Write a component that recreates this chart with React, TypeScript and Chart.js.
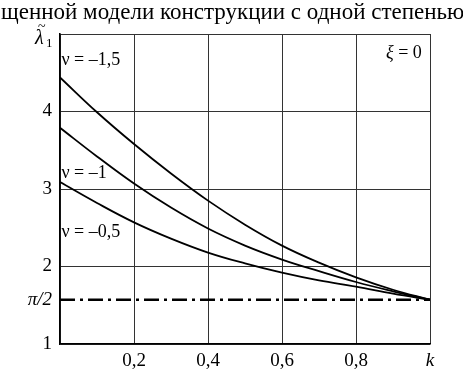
import React, { useEffect, useRef } from "react";
import { Chart, registerables } from "chart.js";

Chart.register(...registerables);

const kValues = [0, 0.1, 0.2, 0.3, 0.4, 0.5, 0.6, 0.7, 0.8, 0.9, 1.0];
const nuMinus15 = [4.44, 3.99, 3.58, 3.2, 2.85, 2.54, 2.27, 2.05, 1.86, 1.7, 1.571];
const nuMinus10 = [3.79, 3.42, 3.07, 2.76, 2.49, 2.27, 2.09, 1.94, 1.8, 1.68, 1.571];
const nuMinus05 = [3.09, 2.82, 2.57, 2.36, 2.18, 2.04, 1.92, 1.82, 1.74, 1.65, 1.571];
const piHalf = Math.PI / 2;

const xTicks = [0, 0.2, 0.4, 0.6, 0.8, 1.0];
const xTickLabels = ["", "0,2", "0,4", "0,6", "0,8", "k"];
const yTicks = [1, piHalf, 2, 3, 4, 5];
const yTickLabels = ["1", "π/2", "2", "3", "4", ""];

const curveLabels = ["ν = –1,5", "ν = –1", "ν = –0,5"];
const curveLabelPos = [
  { k: 0.004, v: 4.66 },
  { k: 0.004, v: 3.2 },
  { k: 0.004, v: 2.44 },
];
const titleText = "щенной модели конструкции с одной степенью";
const paramSymbol = "ξ";
const paramValue = " = 0";

const FONT = "'Liberation Serif', 'Times New Roman', serif";

export default function App() {
  const ref = useRef<HTMLCanvasElement | null>(null);

  useEffect(() => {
    const canvas = ref.current;
    if (!canvas) return;

    const annotations = {
      id: "annotations",
      afterDraw(chart: any) {
        const ctx = chart.ctx;
        const xs = chart.scales.x;
        const ys = chart.scales.y;
        ctx.save();
        ctx.fillStyle = "#000";
        // title
        ctx.font = `23px ${FONT}`;
        ctx.textBaseline = "middle";
        ctx.textAlign = "left";
        ctx.fillText(titleText, 1, 13);
        // curve labels
        ctx.font = `18px ${FONT}`;
        curveLabels.forEach((t, i) => {
          const p = curveLabelPos[i];
          ctx.fillText(t, xs.getPixelForValue(p.k), ys.getPixelForValue(p.v));
        });
        // parameter
        ctx.font = `18px ${FONT}`;
        const vw = ctx.measureText(paramValue).width;
        const px = xs.getPixelForValue(0.978);
        const py = ys.getPixelForValue(4.75);
        ctx.textAlign = "right";
        ctx.fillText(paramValue, px, py);
        ctx.font = `italic 18px ${FONT}`;
        ctx.fillText(paramSymbol, px - vw, py);
        // y axis label lambda~_1
        const lx = chart.chartArea.left - 25;
        const ly = ys.getPixelForValue(4.94);
        ctx.textAlign = "left";
        ctx.font = `italic 20px ${FONT}`;
        ctx.fillText("λ", lx, ly);
        ctx.font = `14px ${FONT}`;
        ctx.fillText("~", lx + 3, ly - 11);
        ctx.font = `13px ${FONT}`;
        ctx.fillText("1", lx + 11, ly + 5);
        ctx.restore();
      },
    };

    const gridColor = (c: any) => {
      const v = c.tick ? c.tick.value : null;
      if (v !== null && Math.abs(v - piHalf) < 1e-6) return "rgba(0,0,0,0)";
      return "#333";
    };

    const lineStyle = {
      borderColor: "#000",
      borderWidth: 1.8,
      pointRadius: 0,
      tension: 0.4,
    };

    const chart = new Chart(canvas, {
      type: "line",
      data: {
        datasets: [
          { ...lineStyle, data: kValues.map((k, i) => ({ x: k, y: nuMinus15[i] })) },
          { ...lineStyle, data: kValues.map((k, i) => ({ x: k, y: nuMinus10[i] })) },
          { ...lineStyle, data: kValues.map((k, i) => ({ x: k, y: nuMinus05[i] })) },
          {
            data: [
              { x: 0, y: piHalf },
              { x: 1, y: piHalf },
            ],
            borderColor: "#000",
            borderWidth: 2.4,
            borderDash: [15, 5, 3, 5],
            pointRadius: 0,
          },
        ],
      } as any,
      options: {
        animation: false,
        responsive: false,
        events: [],
        layout: { padding: { top: 34, right: 33, left: 0, bottom: 0 } },
        plugins: {
          legend: { display: false },
          tooltip: { enabled: false },
        },
        scales: {
          x: {
            type: "linear",
            min: 0,
            max: 1,
            afterBuildTicks: (s: any) => {
              s.ticks = xTicks.map((v) => ({ value: v }));
            },
            afterFit: (s: any) => {
              s.height = 26;
            },
            ticks: {
              callback: (_v: any, i: number) => xTickLabels[i],
              color: "#000",
              padding: 6,
              maxRotation: 0,
              autoSkip: false,
              font: (c: any) => ({
                family: FONT,
                size: 19,
                style: c.index === xTicks.length - 1 ? "italic" : "normal",
              }),
            },
            grid: { color: gridColor, lineWidth: 1, drawTicks: false },
            border: { color: "#000", width: 1.6 },
          },
          y: {
            type: "linear",
            min: 1,
            max: 5,
            afterBuildTicks: (s: any) => {
              s.ticks = yTicks.map((v) => ({ value: v }));
            },
            afterFit: (s: any) => {
              s.width = 60;
            },
            ticks: {
              callback: (_v: any, i: number) => yTickLabels[i],
              color: "#000",
              padding: 8,
              autoSkip: false,
              font: (c: any) => ({
                family: FONT,
                size: 19,
                style: c.index === 1 ? "italic" : "normal",
              }),
            },
            grid: { color: gridColor, lineWidth: 1, drawTicks: false },
            border: { color: "#000", width: 1.6 },
          },
        },
      } as any,
      plugins: [annotations],
    });

    return () => chart.destroy();
  }, []);

  return (
    <div style={{ position: "absolute", left: 0, top: 0, width: 463, height: 370, background: "#fff" }}>
      <canvas ref={ref} width={463} height={370} />
    </div>
  );
}
